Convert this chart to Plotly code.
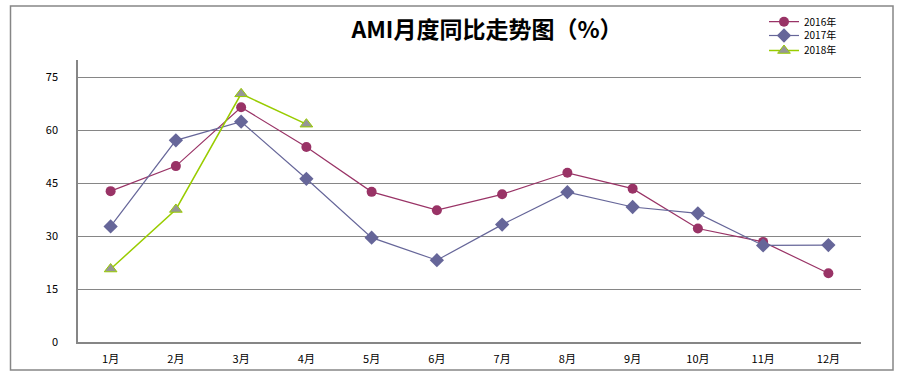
import plotly.graph_objects as go

months = ["1月", "2月", "3月", "4月", "5月", "6月", "7月", "8月", "9月", "10月", "11月", "12月"]
y2016 = [42.8, 49.9, 66.6, 55.3, 42.6, 37.4, 41.9, 48.0, 43.5, 32.2, 28.4, 19.5]
y2017 = [32.8, 57.2, 62.5, 46.3, 29.6, 23.2, 33.3, 42.5, 38.3, 36.5, 27.4, 27.5]
y2018 = [20.7, 37.6, 70.4, 61.8]
yticks = [0, 15, 30, 45, 60, 75]

FONT = "Noto Sans CJK SC"

fig = go.Figure()
fig.add_trace(go.Scatter(
    x=months, y=y2016, name="2016年", mode="lines+markers", legend="legend",
    line=dict(color="#993366", width=1.2),
    marker=dict(symbol="circle", size=10, color="#993366"),
))
fig.add_trace(go.Scatter(
    x=months, y=y2017, name="2017年", mode="lines+markers", legend="legend2",
    line=dict(color="#666699", width=1.2),
    marker=dict(symbol="diamond", size=11, color="#666699"),
))
fig.add_trace(go.Scatter(
    x=months[:len(y2018)], y=y2018, name="2018年", mode="lines+markers", legend="legend3",
    line=dict(color="#99CC00", width=1.5),
    marker=dict(symbol="triangle-up", size=11, color="#969696",
                line=dict(color="#99CC00", width=1)),
))

def leg(py):
    return dict(x=(764 - 78) / 783, y=(342 - py) / 282, xanchor="left", yanchor="middle",
                font=dict(family=FONT, size=10, color="black"),
                bgcolor="rgba(0,0,0,0)", itemwidth=30)

fig.update_layout(
    width=904, height=377,
    margin=dict(l=78, r=43, t=60, b=35, autoexpand=False),
    paper_bgcolor="white", plot_bgcolor="white",
    font=dict(family=FONT, size=11, color="black"),
    title=dict(text="<b>AMI月度同比走势图（%）</b>", x=487 / 904, xref="container",
               xanchor="center", y=1 - 30 / 377, yref="container", yanchor="middle",
               font=dict(family=FONT, size=23, color="black")),
    showlegend=True,
    legend=leg(21.7), legend2=leg(35.5), legend3=leg(50.5),
    xaxis=dict(type="category", range=[-0.5, 11.5], showgrid=False,
               showline=True, linecolor="#868686", linewidth=1.5,
               ticks="", ticklabelstandoff=6, tickfont=dict(size=11)),
    yaxis=dict(range=[0, 80], tickvals=yticks, showgrid=True, gridcolor="#868686",
               gridwidth=1, zeroline=False, showline=True, linecolor="#868686",
               linewidth=1.5, ticks="", ticklabelstandoff=16, tickfont=dict(size=11)),
    shapes=[dict(type="rect", xref="paper", yref="paper",
                 x0=(10.5 - 78) / 783, x1=(893 - 78) / 783,
                 y0=(342 - 370) / 282, y1=(342 - 6) / 282,
                 line=dict(color="#868686", width=1.5), fillcolor="rgba(0,0,0,0)",
                 layer="below")],
)

fig.write_html("out.html", config={"displayModeBar": False},
               post_script="document.body.style.margin='0';document.body.style.overflow='hidden';")
